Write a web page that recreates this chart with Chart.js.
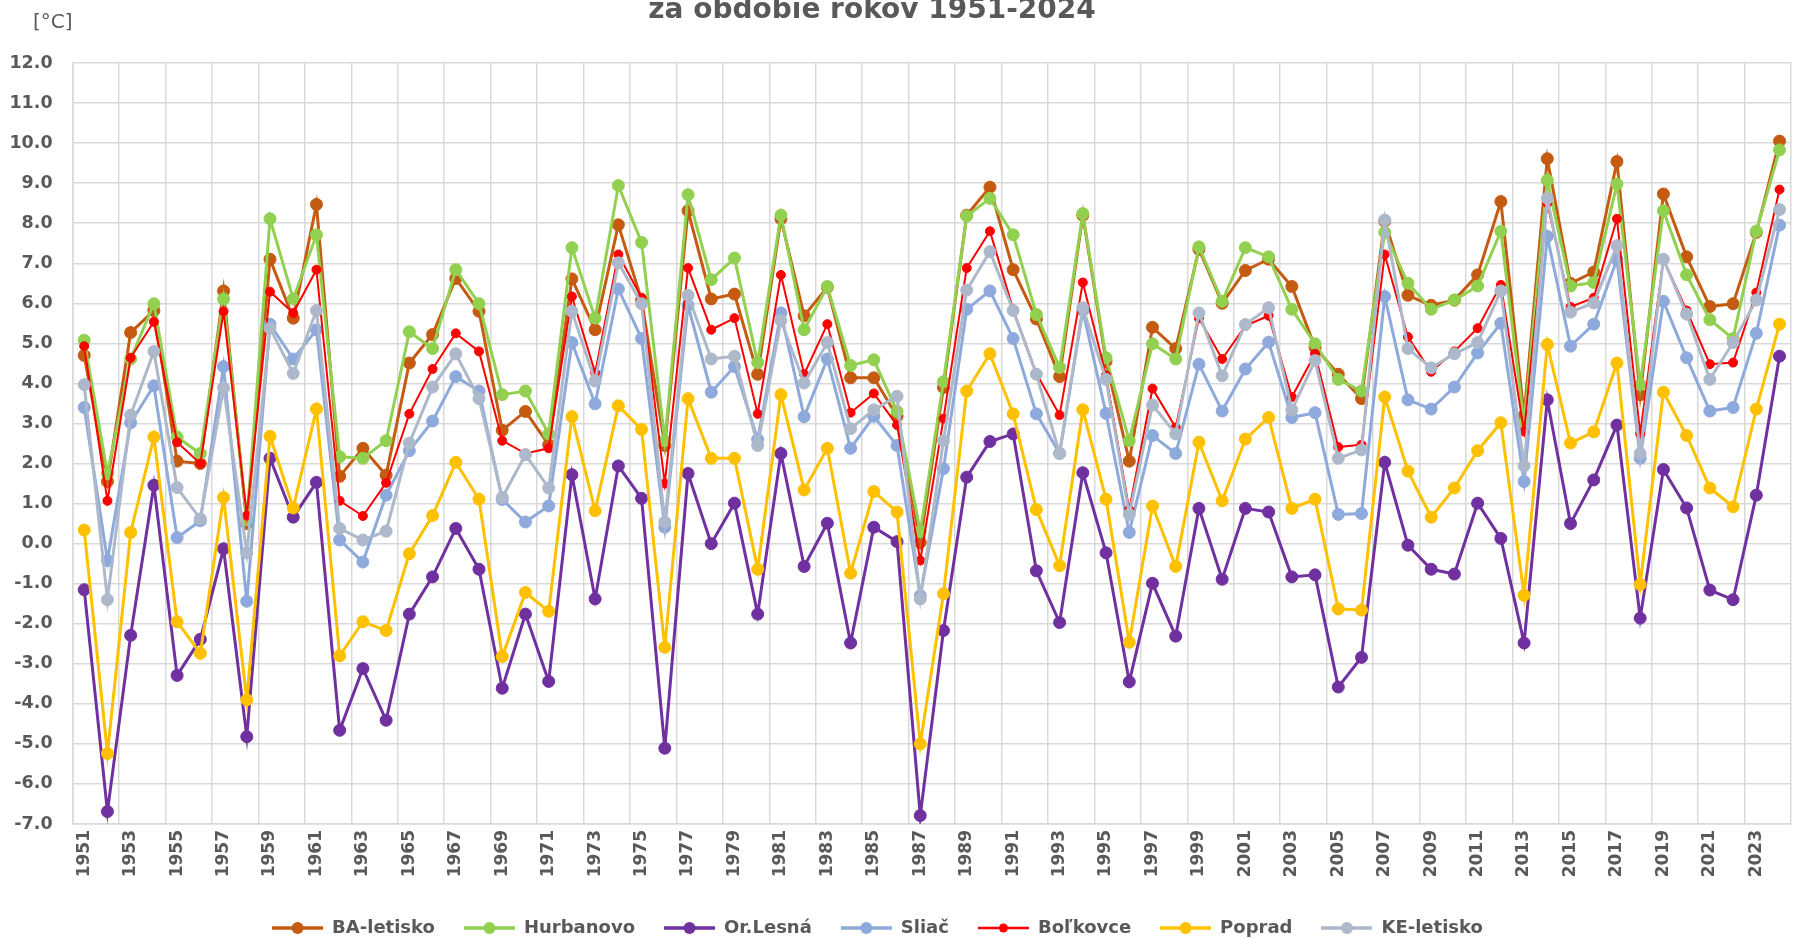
<!DOCTYPE html>
<html>
<head>
<meta charset="utf-8">
<script src="https://cdn.jsdelivr.net/npm/chart.js@4.4.1/dist/chart.umd.min.js"></script>
<style>
  html, body { margin: 0; padding: 0; background: #ffffff; }
  #wrap { width: 1806px; height: 939px; }
</style>
</head>
<body>
<div id="wrap"><canvas id="temp_chart" width="1806" height="939"></canvas></div>
<script>
// years 1951 - 2024
var years = [];
for (var y = 1951; y <= 2024; y++) years.push(String(y));

// values, one line = one decade
var ba_letisko = [
  4.70, 1.55, 5.27, 5.82, 2.06, 2.00, 6.31, 0.50, 7.10, 5.63,
  8.47, 1.68, 2.38, 1.71, 4.51, 5.22, 6.62, 5.80, 2.83, 3.30,
  2.47, 6.61, 5.34, 7.96, 6.08, 2.45, 8.31, 6.11, 6.23, 4.23,
  8.11, 5.69, 6.40, 4.14, 4.14, 3.18, 0.03, 3.90, 8.20, 8.90,
  6.84, 5.61, 4.17, 8.20, 4.55, 2.06, 5.40, 4.87, 7.35, 6.00,
  6.82, 7.10, 6.42, 4.90, 4.23, 3.62, 8.05, 6.20, 5.95, 6.08,
  6.71, 8.54, 3.20, 9.61, 6.50, 6.78, 9.54, 3.72, 8.73, 7.16,
  5.92, 5.99, 7.77, 10.05
];
var hurbanovo = [
  5.08, 1.75, 4.61, 5.99, 2.66, 2.25, 6.11, 0.60, 8.11, 6.11,
  7.71, 2.17, 2.13, 2.57, 5.29, 4.87, 6.84, 5.99, 3.72, 3.81,
  2.74, 7.39, 5.63, 8.94, 7.52, 2.57, 8.71, 6.59, 7.13, 4.52,
  8.20, 5.34, 6.42, 4.45, 4.59, 3.30, 0.30, 4.04, 8.18, 8.62,
  7.71, 5.72, 4.40, 8.24, 4.64, 2.57, 4.99, 4.61, 7.41, 6.05,
  7.39, 7.16, 5.85, 4.99, 4.10, 3.81, 7.77, 6.50, 5.85, 6.08,
  6.43, 7.80, 3.00, 9.07, 6.43, 6.52, 8.98, 3.97, 8.31, 6.71,
  5.59, 5.12, 7.80, 9.83
];
var or_lesna = [
  -1.15, -6.69, -2.29, 1.46, -3.29, -2.39, -0.13, -4.82, 2.13, 0.66,
  1.53, -4.66, -3.12, -4.41, -1.76, -0.83, 0.38, -0.64, -3.61, -1.76,
  -3.44, 1.72, -1.38, 1.94, 1.13, -5.11, 1.75, 0.00, 1.01, -1.76,
  2.25, -0.57, 0.51, -2.48, 0.41, 0.05, -6.79, -2.17, 1.66, 2.55,
  2.74, -0.68, -1.97, 1.77, -0.23, -3.45, -0.99, -2.31, 0.88, -0.89,
  0.88, 0.79, -0.83, -0.78, -3.58, -2.84, 2.03, -0.04, -0.64, -0.76,
  1.01, 0.13, -2.48, 3.59, 0.50, 1.59, 2.96, -1.86, 1.85, 0.89,
  -1.16, -1.40, 1.21, 4.68
];
var sliac = [
  3.40, -0.42, 3.02, 3.94, 0.15, 0.57, 4.42, -1.44, 5.48, 4.61,
  5.34, 0.09, -0.46, 1.21, 2.32, 3.06, 4.17, 3.81, 1.10, 0.54,
  0.94, 5.02, 3.49, 6.36, 5.12, 0.41, 5.95, 3.78, 4.42, 2.60,
  5.76, 3.17, 4.61, 2.38, 3.18, 2.45, -1.30, 1.87, 5.85, 6.31,
  5.12, 3.24, 2.25, 5.82, 3.25, 0.28, 2.70, 2.25, 4.48, 3.31,
  4.36, 5.03, 3.15, 3.27, 0.73, 0.75, 6.17, 3.59, 3.36, 3.91,
  4.76, 5.50, 1.55, 7.67, 4.93, 5.48, 7.10, 2.13, 6.05, 4.64,
  3.31, 3.40, 5.25, 7.95
];
var bolkovce = [
  4.93, 1.07, 4.64, 5.54, 2.53, 2.00, 5.80, 0.70, 6.29, 5.76,
  6.84, 1.07, 0.69, 1.52, 3.24, 4.36, 5.25, 4.80, 2.57, 2.25,
  2.38, 6.17, 4.27, 7.22, 6.14, 1.50, 6.88, 5.34, 5.63, 3.24,
  6.71, 4.23, 5.48, 3.27, 3.75, 2.96, -0.42, 3.12, 6.88, 7.80,
  5.85, 4.25, 3.21, 6.52, 4.20, 0.85, 3.87, 2.90, 5.63, 4.61,
  5.44, 5.69, 3.66, 4.74, 2.41, 2.47, 7.22, 5.16, 4.29, 4.80,
  5.38, 6.46, 2.80, 8.50, 5.91, 6.14, 8.11, 2.74, 7.10, 5.82,
  4.48, 4.52, 6.27, 8.84
];
var poprad = [
  0.34, -5.24, 0.28, 2.66, -1.95, -2.74, 1.15, -3.90, 2.68, 0.89,
  3.36, -2.80, -1.95, -2.17, -0.25, 0.70, 2.03, 1.11, -2.82, -1.22,
  -1.69, 3.17, 0.82, 3.44, 2.85, -2.59, 3.62, 2.13, 2.13, -0.64,
  3.72, 1.34, 2.38, -0.74, 1.30, 0.79, -5.00, -1.25, 3.81, 4.74,
  3.24, 0.85, -0.55, 3.34, 1.11, -2.46, 0.94, -0.57, 2.53, 1.07,
  2.61, 3.15, 0.88, 1.11, -1.63, -1.66, 3.66, 1.81, 0.66, 1.39,
  2.32, 3.02, -1.29, 4.97, 2.51, 2.79, 4.51, -1.02, 3.78, 2.70,
  1.39, 0.92, 3.36, 5.48
];
var ke_letisko = [
  3.97, -1.40, 3.21, 4.80, 1.40, 0.62, 3.89, -0.23, 5.38, 4.25,
  5.82, 0.38, 0.09, 0.31, 2.51, 3.91, 4.74, 3.62, 1.15, 2.22,
  1.39, 5.80, 4.06, 7.01, 5.99, 0.54, 6.20, 4.61, 4.68, 2.45,
  5.57, 4.01, 5.02, 2.87, 3.34, 3.68, -1.38, 2.57, 6.33, 7.29,
  5.82, 4.23, 2.25, 5.89, 4.10, 0.73, 3.46, 2.74, 5.76, 4.19,
  5.47, 5.89, 3.34, 4.57, 2.13, 2.34, 8.08, 4.87, 4.39, 4.74,
  5.02, 6.31, 1.94, 8.62, 5.78, 6.01, 7.44, 2.25, 7.10, 5.73,
  4.10, 5.02, 6.08, 8.34
];

var names = ["BA-letisko", "Hurbanovo", "Or.Lesná", "Sliač", "Boľkovce", "Poprad", "KE-letisko"];
var series = [ba_letisko, hurbanovo, or_lesna, sliac, bolkovce, poprad, ke_letisko];
var colors = ["#C55A11", "#92D050", "#7030A0", "#8EA9DB", "#FF0000", "#FFC000", "#ADB9CA"];

var text_color = "#595959";
var grid_color = "#d9d9d9";
var font_family = "'DejaVu Sans', Verdana, sans-serif";

// legend symbol: short line with a dot on it
function make_symbol(color, radius, width) {
  var c = document.createElement("canvas");
  c.width = 51;
  c.height = 16;
  var g = c.getContext("2d");
  g.strokeStyle = color;
  g.lineWidth = width;
  g.beginPath();
  g.moveTo(0, 8);
  g.lineTo(51, 8);
  g.stroke();
  g.fillStyle = color;
  g.beginPath();
  g.arc(25.5, 8, radius, 0, Math.PI * 2);
  g.fill();
  return c;
}

var datasets = [];
var symbols = [];
for (var i in series) {
  var is_red = names[i] == "Boľkovce";
  datasets.push({
    label: names[i],
    data: series[i],
    borderColor: colors[i],
    backgroundColor: colors[i],
    pointBackgroundColor: colors[i],
    pointBorderColor: colors[i],
    borderWidth: is_red ? 2 : 3,
    pointRadius: is_red ? 4.5 : 6,
    pointBorderWidth: 1,
    tension: 0,
    fill: false,
    order: series.length - i   // later series drawn on top, like the original
  });
  symbols.push(make_symbol(colors[i], is_red ? 4.5 : 6, is_red ? 2.5 : 3.5));
}

// title (only the second line is visible) and the unit label
var titlePlugin = {
  id: "titleText",
  afterDraw: function(chart) {
    var ctx = chart.ctx;
    ctx.save();
    ctx.fillStyle = text_color;
    ctx.textAlign = "center";
    ctx.textBaseline = "alphabetic";
    ctx.font = "bold 28px " + font_family;
    ctx.fillText("za obdobie rokov 1951-2024", 872, 18);
    ctx.textAlign = "left";
    ctx.font = "20px " + font_family;
    ctx.fillText("[°C]", 33, 28);
    ctx.restore();
  }
};

new Chart(document.getElementById("temp_chart"), {
  type: "line",
  data: {
    labels: years,
    datasets: datasets
  },
  options: {
    responsive: false,
    devicePixelRatio: 1,
    animation: false,
    layout: {
      padding: { top: 63, left: -40, right: 11, bottom: -8 }
    },
    scales: {
      x: {
        type: "category",
        offset: true,
        grid: {
          offset: true,
          drawTicks: false,
          lineWidth: 1.5,
          color: function(c) {
            return (c.index === undefined || c.index % 2 === 0) ? grid_color : "rgba(0,0,0,0)";
          }
        },
        border: { color: grid_color, width: 1.5 },
        ticks: {
          autoSkip: false,
          maxRotation: 90,
          minRotation: 90,
          padding: 6,
          color: text_color,
          font: { family: font_family, size: 17, weight: "bold" },
          callback: function(val, idx) {
            return idx % 2 === 0 ? this.getLabelForValue(val) : "";
          }
        },
        afterFit: function(scale) { scale.height = 66; }
      },
      y: {
        min: -7,
        max: 12,
        grid: { drawTicks: false, lineWidth: 1.5, color: grid_color },
        border: { color: grid_color, width: 1.5 },
        ticks: {
          stepSize: 1,
          padding: 20,
          color: text_color,
          font: { family: font_family, size: 17.5, weight: "bold" },
          callback: function(v) { return v.toFixed(1); }
        },
        afterFit: function(scale) { scale.width = 112.6; }
      }
    },
    plugins: {
      title: { display: false },
      tooltip: { enabled: false },
      legend: {
        position: "bottom",
        labels: {
          usePointStyle: true,
          pointStyleWidth: 51,
          padding: 29,
          color: text_color,
          font: { family: font_family, size: 18, weight: "bold" },
          sort: function(a, b) { return a.datasetIndex - b.datasetIndex; },
          generateLabels: function(chart) {
            var items = Chart.defaults.plugins.legend.labels.generateLabels(chart);
            items.forEach(function(it) { it.pointStyle = symbols[it.datasetIndex]; });
            return items;
          }
        }
      }
    }
  },
  plugins: [titlePlugin]
});
</script>
</body>
</html>
